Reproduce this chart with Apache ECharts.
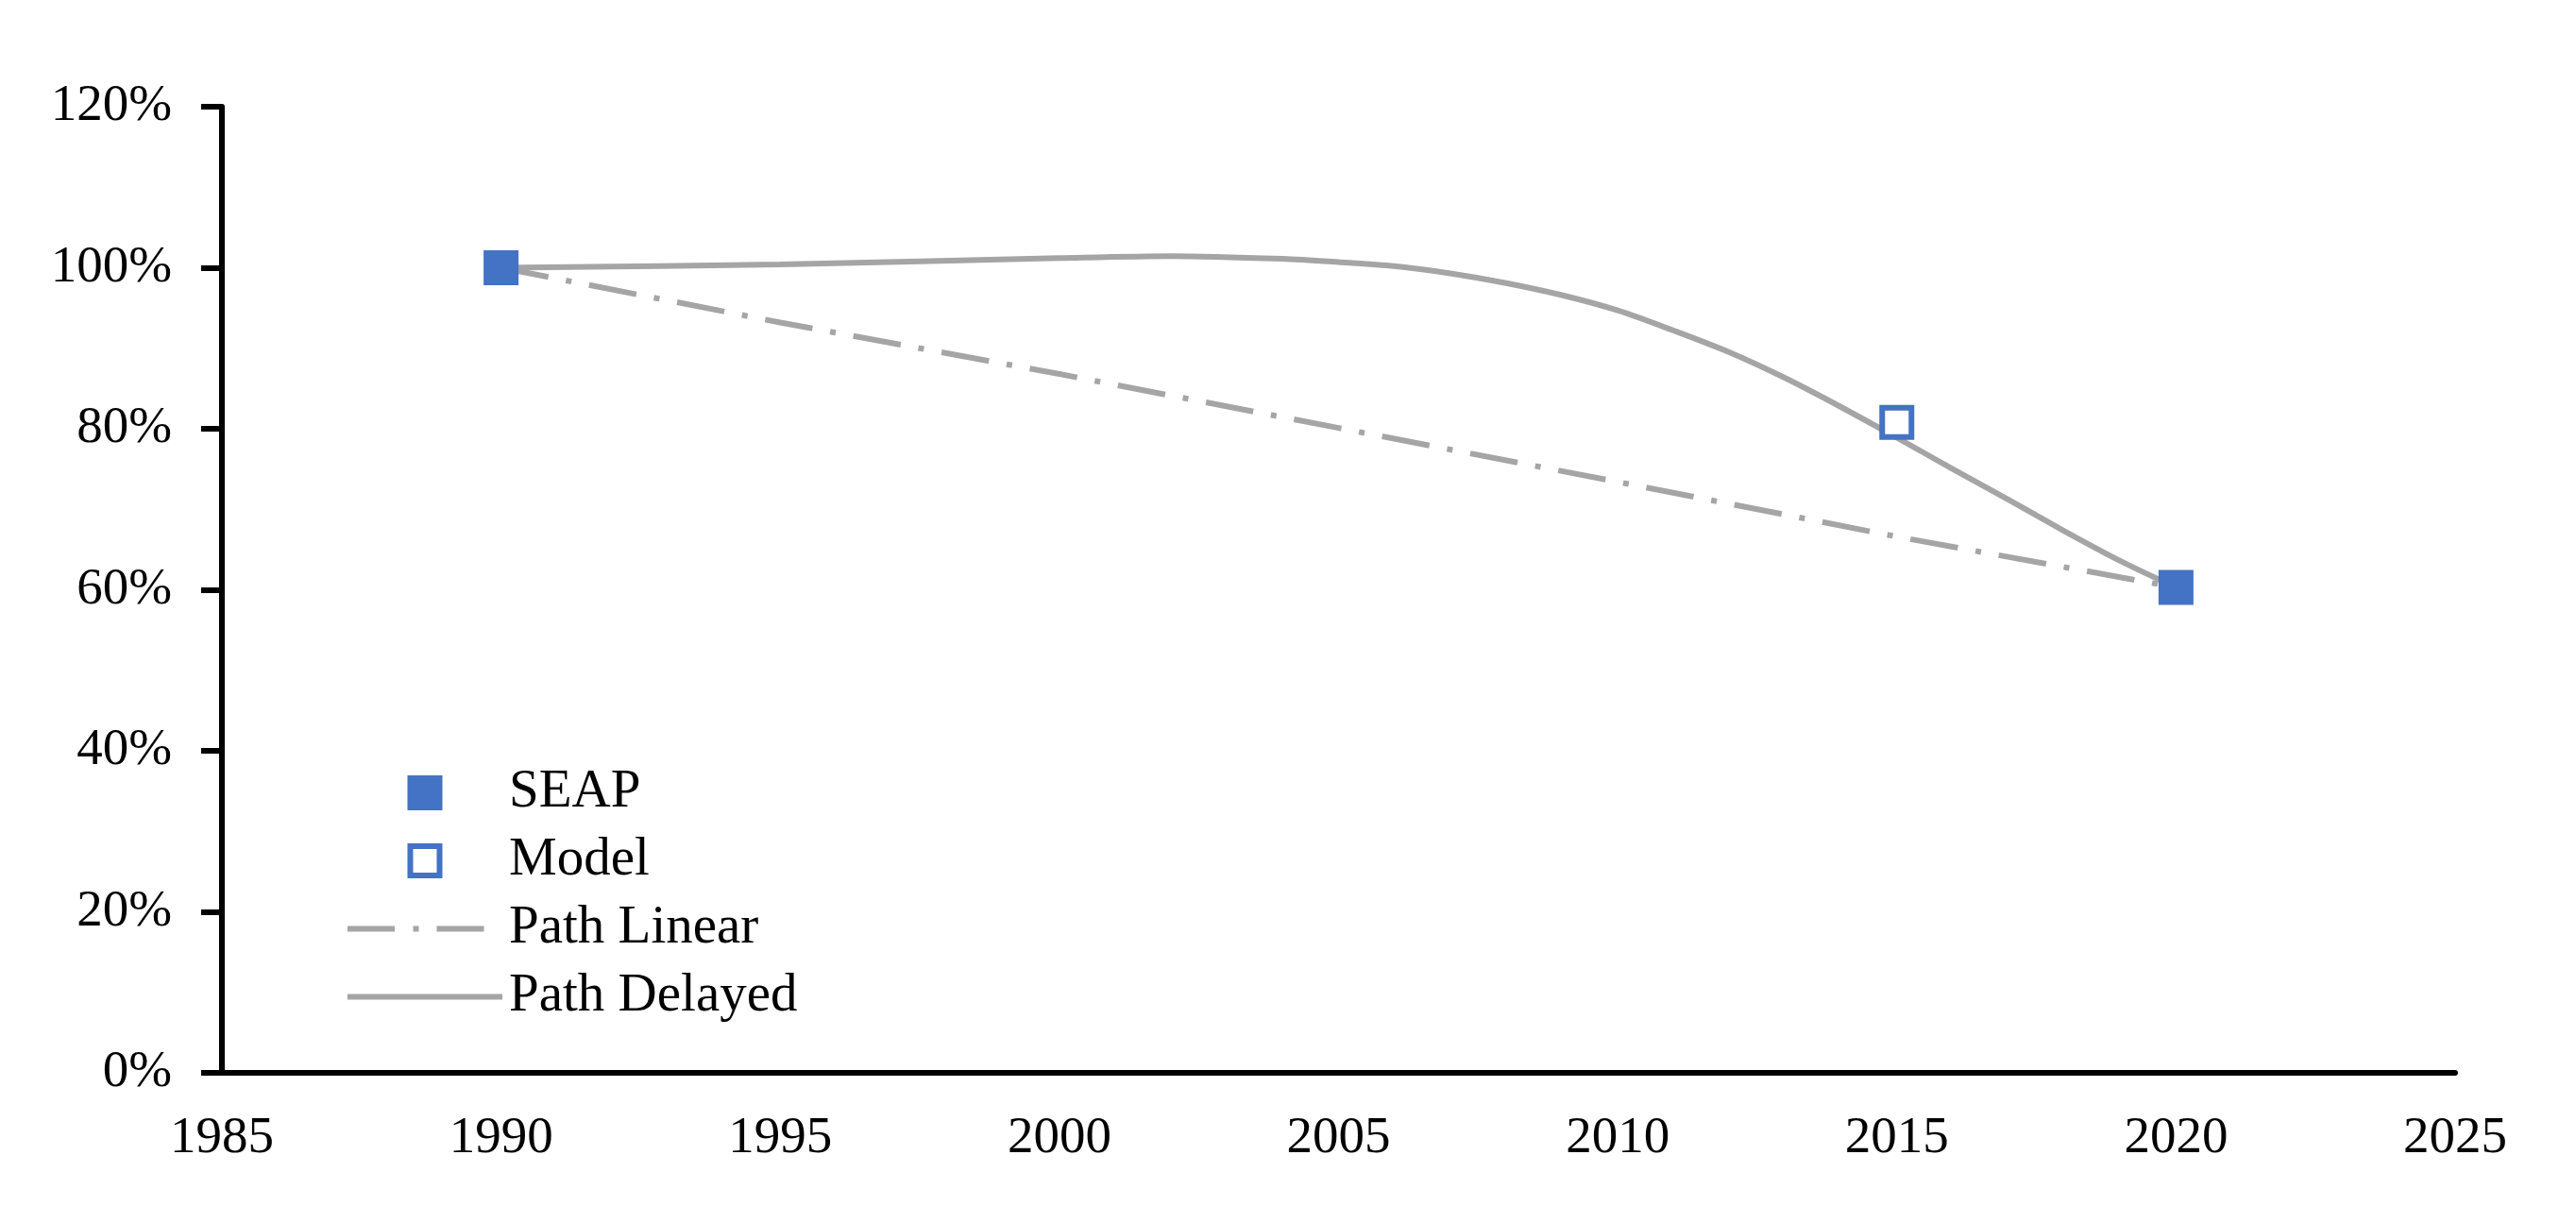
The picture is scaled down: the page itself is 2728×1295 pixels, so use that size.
<!DOCTYPE html>
<html><head><meta charset="utf-8">
<script src="https://cdn.jsdelivr.net/npm/echarts@6/dist/echarts.min.js"></script>
<style>html,body{margin:0;padding:0;background:#fff}#c{width:2728px;height:1295px}</style>
</head><body><div id="c"></div>
<script>
// ---- data ----
const xMin = 1985, xMax = 2025, xStep = 5;
const yMin = 0, yMax = 120, yStep = 20;
const seriesNames = ['SEAP', 'Model', 'Path Linear', 'Path Delayed'];
const seapYears = [1990, 2020];
const seapValues = [100, 60.3];
const modelYears = [2015];
const modelValues = [80.8];
const linearYears = [1990, 1995, 2000, 2005, 2010, 2015, 2020];
const linearValues = [100, 93.2, 86.8, 80.1, 73.4, 66.6, 60.3];
const delayedYears = [1990, 1995, 2000, 2002, 2004, 2005, 2006, 2007, 2008, 2009, 2010, 2011, 2012, 2013, 2014, 2015, 2016, 2017, 2018, 2019, 2020];
const delayedValues = [100, 100.4, 101.2, 101.45, 101.1, 100.7, 100.2, 99.3, 98.1, 96.6, 94.7, 92.2, 89.5, 86.3, 82.7, 78.9, 75.0, 71.2, 67.3, 63.6, 60.3];

const pair = (xs, ys) => xs.map((x, i) => [x, ys[i]]);
const FONT = 'Liberation Serif';
const BLUE = '#4472C4', GREY = '#A5A5A5';

// legend icon shapes (drawn by the legend, kept to aspect)
const ICON_FILLED = 'path://M0,0H37V37H0Z';
const ICON_HOLLOW = 'path://M0,0H37V37H0Z M6,6V31H31V6Z';
const ICON_DASHDOT = 'path://M0,0H50V6H0Z M69.5,0H75.5V6H69.5Z M94.5,0H144.5V6H94.5Z M163.98,0H164V6H163.98Z';
const ICON_SOLID = 'path://M0,0H164V6H0Z';

const chart = echarts.init(document.getElementById('c'), null, {renderer: 'canvas'});
chart.setOption({
  animation: false,
  backgroundColor: '#fff',
  grid: {left: 235, right: 128, top: 113, bottom: 159, containLabel: false, outerBoundsMode: 'none'},
  xAxis: {
    type: 'value', min: xMin, max: xMax, interval: xStep,
    axisLine: {lineStyle: {color: '#000', width: 6}},
    axisTick: {show: false},
    splitLine: {show: false},
    axisLabel: {color: '#000', fontFamily: FONT, fontSize: 55, margin: 42, formatter: v => String(v)}
  },
  yAxis: {
    type: 'value', min: yMin, max: yMax, interval: yStep,
    axisLine: {show: true, lineStyle: {color: '#000', width: 6}},
    axisTick: {show: true, length: 22, lineStyle: {color: '#000', width: 6}},
    splitLine: {show: false},
    axisLabel: {color: '#000', fontFamily: FONT, fontSize: 55, margin: 53, formatter: v => v + '%'}
  },
  legend: {
    orient: 'vertical', left: 363, top: 806,
    itemWidth: 164, itemHeight: 37, itemGap: 15,
    symbolKeepAspect: true,
    data: [
      {name: seriesNames[0], icon: ICON_FILLED, itemStyle: {color: BLUE, borderWidth: 0}},
      {name: seriesNames[1], icon: ICON_HOLLOW, itemStyle: {color: BLUE, borderWidth: 0}},
      {name: seriesNames[2], icon: ICON_DASHDOT, itemStyle: {color: GREY, borderWidth: 0}},
      {name: seriesNames[3], icon: ICON_SOLID, itemStyle: {color: GREY, borderWidth: 0}}
    ],
    textStyle: {color: '#000', fontFamily: FONT, fontSize: 57, padding: [0, 0, 0, 2]}
  },
  series: [
    {name: seriesNames[2], type: 'line', data: pair(linearYears, linearValues), symbol: 'none',
     lineStyle: {color: GREY, width: 6, type: [51, 19, 6, 19], cap: 'butt'}, itemStyle: {color: GREY}, z: 2},
    {name: seriesNames[3], type: 'line', data: pair(delayedYears, delayedValues), symbol: 'none',
     smooth: 0.3,
     lineStyle: {color: GREY, width: 6}, itemStyle: {color: GREY}, z: 2},
    {name: seriesNames[0], type: 'scatter', data: pair(seapYears, seapValues), symbol: 'rect', symbolSize: 37,
     itemStyle: {color: BLUE, opacity: 1}, z: 5},
    {name: seriesNames[1], type: 'scatter', data: pair(modelYears, modelValues), symbol: 'rect', symbolSize: 31,
     itemStyle: {color: '#fff', borderColor: BLUE, borderWidth: 6, opacity: 1}, z: 5}
  ]
});
</script>
</body></html>
